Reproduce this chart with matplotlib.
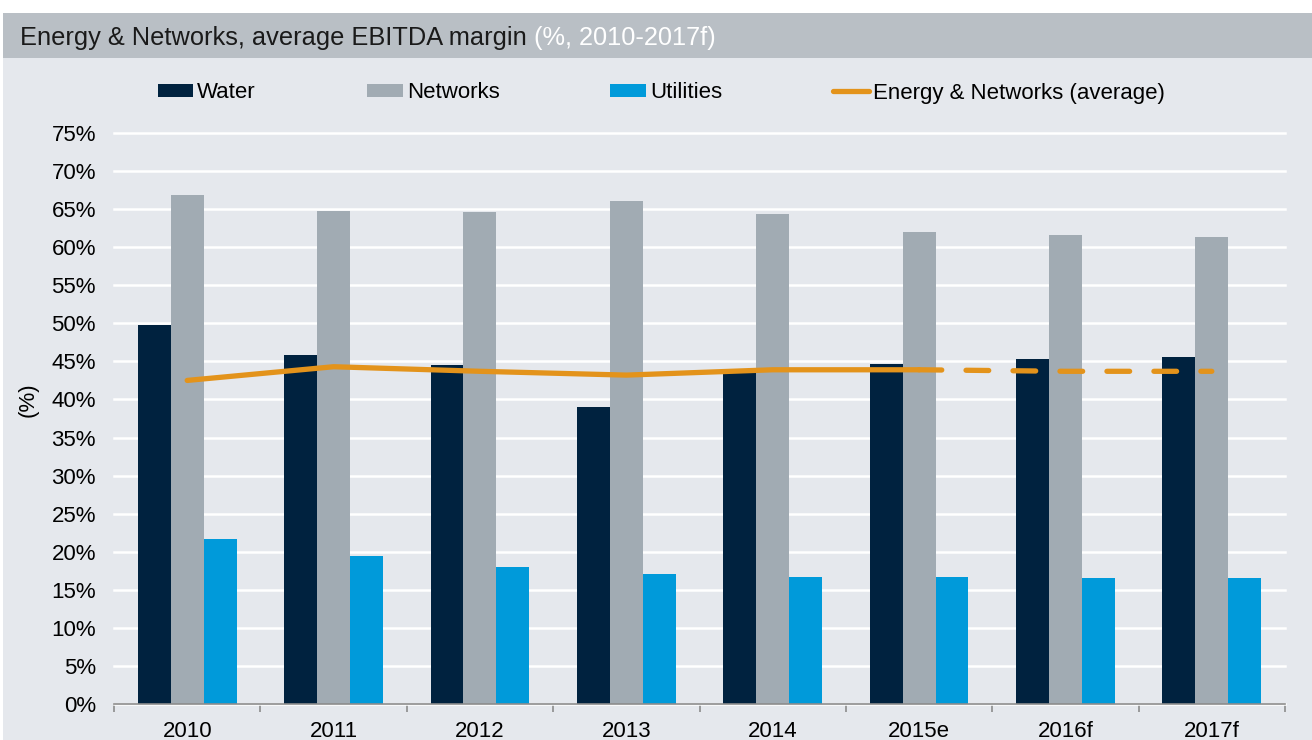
import matplotlib.pyplot as plt
import numpy as np
from matplotlib.patches import Rectangle

years = ["2010", "2011", "2012", "2013", "2014", "2015e", "2016f", "2017f"]
water = [49.8, 45.8, 44.5, 39.0, 43.9, 44.6, 45.3, 45.6]
networks = [66.8, 64.8, 64.6, 66.1, 64.3, 62.0, 61.6, 61.4]
utilities = [21.7, 19.5, 18.0, 17.1, 16.7, 16.7, 16.6, 16.6]
average = [42.5, 44.3, 43.7, 43.2, 43.9, 43.9, 43.7, 43.7]
yticks = [0, 5, 10, 15, 20, 25, 30, 35, 40, 45, 50, 55, 60, 65, 70, 75]

plt.rcParams["font.family"] = ["Liberation Sans", "DejaVu Sans"]

c_water = "#00223F"
c_net = "#A1ABB3"
c_util = "#009ADA"
c_avg = "#E3931B"
bg = "#E5E8ED"

fig = plt.figure(figsize=(13.12, 7.40), dpi=100, facecolor="white")
fig.patches.append(Rectangle((3 / 1312, 0), 1, 1 - 58 / 740, transform=fig.transFigure,
                             facecolor=bg, edgecolor="none", zorder=-10))
fig.patches.append(Rectangle((3 / 1312, 1 - 58 / 740), 1, 45 / 740, transform=fig.transFigure,
                             facecolor="#B9BFC5", edgecolor="none", zorder=-10))

t1 = fig.text(20 / 1312, 1 - 38 / 740, "Energy & Networks, average EBITDA margin ",
              fontsize=18.3, color="#1A1A1A", va="center", ha="left")
fig.add_artist(plt.Annotation("(%, 2010-2017f)", xy=(1, 0), xycoords=t1, va="bottom", ha="left",
                              fontsize=18.3, color="white"))

ax = fig.add_axes([114 / 1312, 1 - 704 / 740, (1285 - 114) / 1312, (704 - 133) / 740])
ax.set_facecolor(bg)

x = np.arange(len(years))
w = 0.225
b1 = ax.bar(x - w, water, w, color=c_water, label="Water", zorder=3)
b2 = ax.bar(x, networks, w, color=c_net, label="Networks", zorder=3)
b3 = ax.bar(x + w, utilities, w, color=c_util, label="Utilities", zorder=3)

l1, = ax.plot(x[:6], average[:6], color=c_avg, lw=3.8, solid_capstyle="round",
              label="Energy & Networks (average)", zorder=4)
ax.plot(x[5:], average[5:], color=c_avg, lw=3.8, dash_capstyle="round",
        dashes=(4.3, 4.6), zorder=4)

ax.set_xlim(-0.5, len(years) - 0.5)
ax.set_ylim(0, 75)
ax.set_yticks(yticks)
ax.set_yticklabels([f"{v}%" for v in yticks])
ax.set_xticks(x)
ax.set_xticklabels(years)
ax.set_xticks(np.arange(-0.5, len(years)), minor=True)
ax.tick_params(axis="x", which="major", length=0, pad=12, labelsize=16)
ax.tick_params(axis="x", which="minor", length=6, color="#8C8C8C", width=1.2)
ax.tick_params(axis="y", length=0, pad=13, labelsize=16)

ax.grid(axis="y", color="white", lw=1.8, zorder=0)
for gl in ax.get_ygridlines():
    gl.set_clip_on(False)
for s in ["left", "right", "top"]:
    ax.spines[s].set_visible(False)
ax.spines["bottom"].set_color("#8C8C8C")
ax.spines["bottom"].set_linewidth(1.2)
ax.spines["bottom"].set_zorder(5)

fig.text(28 / 1312, 1 - 400 / 740, "(%)", rotation=90, fontsize=16, va="center", ha="center")

fig.legend([b1, b2, b3, l1], ["Water", "Networks", "Utilities", "Energy & Networks (average)"],
           loc="center", bbox_to_anchor=(0.504, 1 - 93 / 740), ncol=4, frameon=False,
           fontsize=16, handlelength=1.6, handleheight=0.55, handletextpad=0.18,
           columnspacing=5.0)

fig.savefig("out.png", dpi=100, facecolor=fig.get_facecolor())
